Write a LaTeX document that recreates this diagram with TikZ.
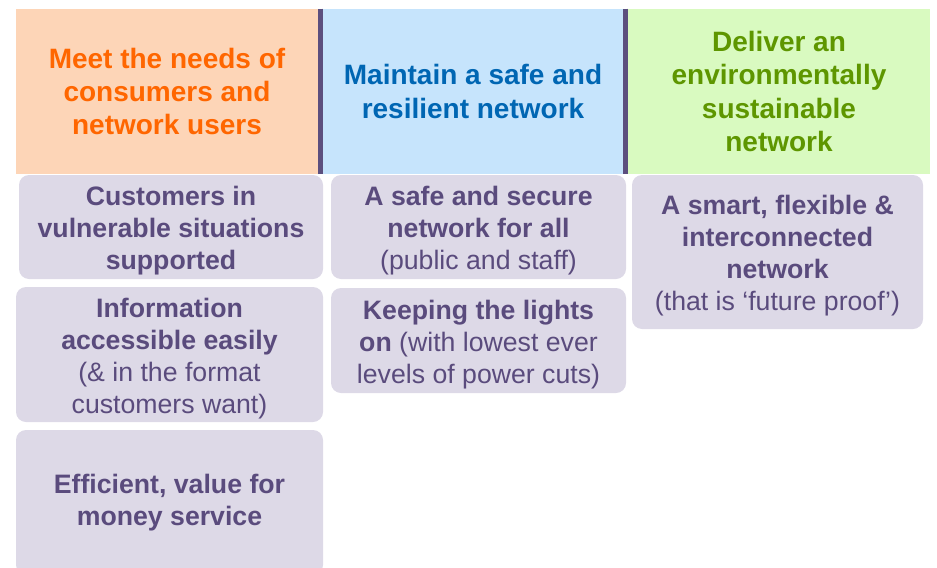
\documentclass[tikz,border=0pt]{standalone}
\usepackage{fontspec}
\setmainfont{Liberation Sans}
\usetikzlibrary{positioning}

\definecolor{peach}{HTML}{FDD5B7}
\definecolor{skyblue}{HTML}{C6E4FC}
\definecolor{palegreen}{HTML}{D9FAC0}
\definecolor{orangetext}{HTML}{FF6600}
\definecolor{bluetext}{HTML}{0066B3}
\definecolor{greentext}{HTML}{5E9600}
\definecolor{lavender}{HTML}{DDD9E7}
\definecolor{purpletext}{HTML}{5A4B7D}
\definecolor{darkpurple}{HTML}{5C4F7E}

% taller first line, so the text sits a little low in its box
\newcommand{\firstline}{\rule{0pt}{20.5pt}}

\begin{document}
\begin{tikzpicture}
                [x=0.75pt, y=-0.75pt,
                header/.style={
                    rectangle,
                    inner sep=0pt,
                    minimum height=123.75pt,
                    align=center,
                    font=\fontsize{21}{25}\selectfont\bfseries
                },
                block/.style={
                    rectangle,
                    rounded corners=7.5pt,
                    fill=lavender,
                    text=purpletext,
                    inner sep=0pt,
                    align=center,
                    font=\fontsize{20}{24}\selectfont
                },
                divider/.style={
                    draw=darkpurple, line width=3.75pt
                },
                orangehdr/.style={header, fill=peach, text=orangetext, minimum width=226.5pt},
                bluehdr/.style={header, fill=skyblue, text=bluetext, minimum width=225pt},
                greenhdr/.style={header, fill=palegreen, text=greentext, minimum width=226.5pt}
                ]

                \useasboundingbox (0,0) rectangle (937,567);

                % Column headers
                \node[orangehdr] (needs) at (167,91.5) {Meet the needs of\\consumers and\\network users};
                \node[bluehdr] (safety) at (473,91.5) {Maintain a safe and\\resilient network};
                \node[greenhdr] (environment) at (779,91.5) {Deliver an\\environmentally\\sustainable\\network};

                % Dividers between the headers
                \foreach \hdr in {needs, safety}{
                    \draw [divider] ([xshift=1.875pt]\hdr.north east) -- ([xshift=1.875pt]\hdr.south east);
                }

                % First column
                \node[block, minimum width=228pt, minimum height=78pt] (vulnerable) at (171,227)
                    {\firstline\textbf{Customers in}\\\textbf{vulnerable situations}\\\textbf{supported}};
                \node[block, minimum width=230.25pt, minimum height=101.25pt] (information) at (169.5,354.5)
                    {\firstline\textbf{Information}\\\textbf{accessible easily}\\(\& in the format\\customers want)};
                \node[block, minimum width=230.25pt, minimum height=108.75pt] (efficient) at (169.5,502.5)
                    {\textbf{Efficient, value for}\\\textbf{money service}};

                % Second column
                \node[block, minimum width=221.25pt, minimum height=78pt] (secure) at (478.5,227)
                    {\firstline\textbf{A safe and secure}\\\textbf{network for all}\\(public and staff)};
                \node[block, minimum width=221.25pt, minimum height=78.75pt] (lights) at (478.5,340.5)
                    {\firstline\textbf{Keeping the lights}\\\textbf{on} (with lowest ever\\levels of power cuts)};

                % Third column
                \node[block, minimum width=218.25pt, minimum height=115.5pt] (smart) at (777.5,252)
                    {\firstline\textbf{A smart, flexible \&}\\\textbf{interconnected}\\\textbf{network}\\(that is ‘future proof’)};
            \end{tikzpicture}
\end{document}
